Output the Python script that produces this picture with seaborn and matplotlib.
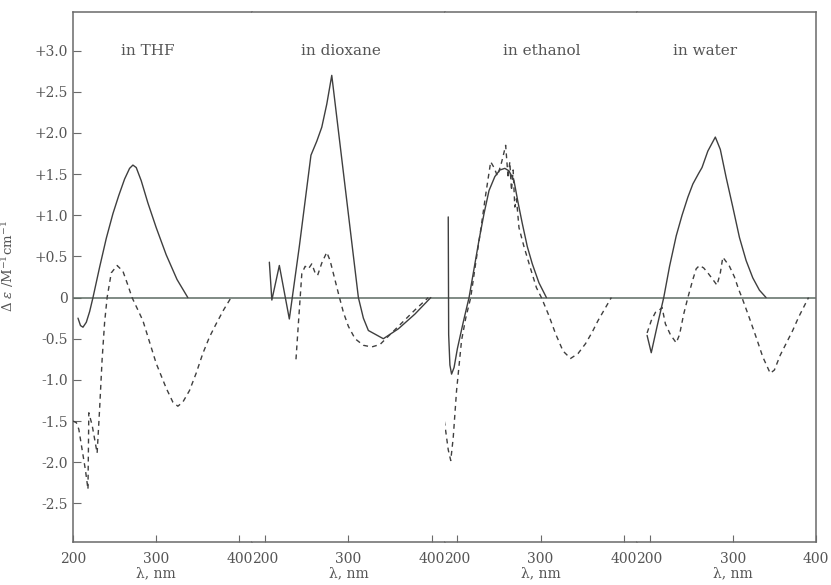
import matplotlib
matplotlib.use("Agg")
import matplotlib.pyplot as plt
import seaborn as sns
import pandas as pd

# ---------------- data ----------------
panels = ["in THF", "in dioxane", "in ethanol", "in water"]

thf_solid_x = [206, 209, 212, 216, 220, 224, 232, 240, 248, 255, 262, 268, 272, 276, 282, 290, 300, 312, 325, 338]
thf_solid_y = [-0.25, -0.34, -0.36, -0.30, -0.17, 0.0, 0.37, 0.72, 1.02, 1.24, 1.44, 1.57, 1.61, 1.58, 1.42, 1.15, 0.85, 0.52, 0.22, 0.0]
thf_dash_x = [200, 204, 207, 211, 215, 218, 219, 223, 226, 229, 232, 235, 238, 241, 246, 253, 260, 266, 271,
              284, 300, 312, 320, 326, 332, 340, 348, 356, 364, 372, 381, 390]
thf_dash_y = [-1.5, -1.52, -1.6, -1.85, -2.1, -2.33, -1.4, -1.55, -1.72, -1.89, -1.35, -0.75, -0.3, 0.0, 0.3, 0.39, 0.32, 0.15, 0.0,
              -0.28, -0.8, -1.1, -1.27, -1.32, -1.27, -1.13, -0.92, -0.68, -0.48, -0.32, -0.15, 0.0]

dio_solid_x = [205, 208, 217, 229, 241, 255, 262, 268, 274, 280, 312, 318, 324, 333, 342, 360, 380, 399]
dio_solid_y = [0.43, -0.03, 0.39, -0.26, 0.62, 1.73, 1.90, 2.07, 2.35, 2.70, 0.0, -0.25, -0.40, -0.45, -0.5, -0.38, -0.2, 0.0]
dio_dash_x = [237, 240, 244, 248, 252, 256, 260, 263, 268, 274, 278, 283, 288, 294, 300, 308, 318, 328, 338, 350, 365, 380, 396]
dio_dash_y = [-0.75, -0.3, 0.29, 0.38, 0.35, 0.41, 0.30, 0.27, 0.42, 0.55, 0.45, 0.25, 0.05, -0.18, -0.35, -0.5, -0.58, -0.6, -0.57, -0.45, -0.3, -0.15, 0.0]

eth_solid_x = [189, 189.5, 191, 193, 196, 200, 207, 214, 220, 226, 232, 238, 245, 251, 257, 262, 268, 273, 278, 284, 290, 298, 307]
eth_solid_y = [0.98, -0.45, -0.82, -0.93, -0.85, -0.62, -0.3, 0.0, 0.35, 0.70, 1.02, 1.30, 1.47, 1.55, 1.57, 1.54, 1.42, 1.15, 0.90, 0.62, 0.41, 0.18, 0.0]
eth_dash_x = [181, 185, 189, 192, 195, 199, 205, 210, 216, 222, 228, 234, 240, 244, 248, 252, 255, 258, 261, 263, 265, 267, 269, 271, 274,
              280, 288, 295, 301, 310, 318, 327, 336, 345, 354, 362, 369, 377, 385]
eth_dash_y = [-1.28, -1.55, -1.85, -1.98, -1.7, -1.13, -0.52, -0.25, 0.0, 0.42, 0.82, 1.25, 1.65, 1.58, 1.48, 1.6, 1.72, 1.85, 1.45, 1.65, 1.3, 1.55, 1.1, 1.2, 0.85,
              0.62, 0.35, 0.12, 0.0, -0.22, -0.44, -0.65, -0.74, -0.68, -0.56, -0.42, -0.28, -0.14, 0.0]

wat_solid_x = [197, 202, 209, 217, 224, 232, 239, 246, 252, 259, 263, 270, 279, 285, 292, 300, 308, 316, 324, 332, 340]
wat_solid_y = [-0.46, -0.67, -0.35, 0.0, 0.38, 0.75, 1.0, 1.22, 1.38, 1.51, 1.58, 1.78, 1.95, 1.80, 1.46, 1.10, 0.73, 0.45, 0.24, 0.09, 0.0]
wat_dash_x = [197, 202, 207, 211, 215, 219, 225, 232, 236, 241, 246, 252, 256, 260, 265, 270, 276, 281, 285, 288, 291, 296, 302, 307,
              311, 320, 328, 336, 345, 350, 357, 364, 372, 379, 386, 391]
wat_dash_y = [-0.43, -0.28, -0.18, -0.16, -0.12, -0.32, -0.45, -0.55, -0.45, -0.2, 0.0, 0.22, 0.35, 0.39, 0.36, 0.3, 0.22, 0.15, 0.3, 0.49, 0.45, 0.38, 0.25, 0.1,
              0.0, -0.25, -0.48, -0.72, -0.92, -0.88, -0.7, -0.56, -0.4, -0.24, -0.1, 0.0]

x_ticks = [200, 300, 400]
x_tick_labels = ["200", "300", "400"]
y_ticks = [3.0, 2.5, 2.0, 1.5, 1.0, 0.5, 0.0, -0.5, -1.0, -1.5, -2.0, -2.5]
y_tick_labels = ["+3.0", "+2.5", "+2.0", "+1.5", "+1.0", "+0.5", "0", "-0.5", "-1.0", "-1.5", "-2.0", "-2.5"]
title_x = [290, 291, 301, 267]

series = [
    (thf_solid_x, thf_solid_y, thf_dash_x, thf_dash_y),
    (dio_solid_x, dio_solid_y, dio_dash_x, dio_dash_y),
    (eth_solid_x, eth_solid_y, eth_dash_x, eth_dash_y),
    (wat_solid_x, wat_solid_y, wat_dash_x, wat_dash_y),
]

# ---------------- styling ----------------
sns.set_theme(style="white")
plt.rcParams["font.family"] = ["DejaVu Serif"]
plt.rcParams["mathtext.fontset"] = "dejavuserif"

text_c = "#555555"
line_c = "#3f3f3f"
frame_c = "#6a6a6a"
zero_c = "#5d6b63"

gap = 15.5
xlims = [(200, 400 + gap), (200 - gap, 400 + gap), (200 - gap, 400 + gap), (200 - gap, 400)]
widths = [hi - lo for lo, hi in xlims]

fig, axes = plt.subplots(1, 4, figsize=(8.31, 5.85), dpi=100, sharey=True,
                         gridspec_kw={"width_ratios": widths, "wspace": 0})
fig.subplots_adjust(left=73 / 831, right=816 / 831, top=1 - 12 / 585, bottom=1 - 542 / 585)
fig.patch.set_facecolor("white")

for i, ax in enumerate(axes):
    sx, sy, dx, dy = series[i]
    ax.axhline(0, color=zero_c, lw=1.1, zorder=1)
    sns.lineplot(x=sx, y=sy, sort=False, estimator=None, ax=ax, color=line_c, lw=1.0, zorder=3)
    sns.lineplot(x=dx, y=dy, sort=False, estimator=None, ax=ax, color=line_c, lw=1.0, zorder=3)
    ax.lines[-1].set_dashes((3.5, 3))
    ax.set_xlim(*xlims[i])
    ax.set_ylim(-2.97, 3.47)
    ax.set_xticks(x_ticks)
    ax.set_xticklabels(x_tick_labels, color=text_c, fontsize=10)
    ax.tick_params(axis="x", direction="in", length=5, width=0.8, color=frame_c, pad=7, bottom=True)
    ax.tick_params(axis="y", direction="in", length=6, width=0.8, color=frame_c, left=(i == 0))
    for side, sp in ax.spines.items():
        sp.set_color(frame_c)
        sp.set_linewidth(1.1)
    if i > 0:
        ax.spines["left"].set_visible(False)
    if i < 3:
        ax.spines["right"].set_visible(False)
    ax.set_xlabel("λ, nm", color=text_c, fontsize=10)
    ax.xaxis.set_label_coords(300, -0.045, transform=ax.get_xaxis_transform())
    ax.text(title_x[i], 3.0, panels[i], ha="center", va="center", color=text_c, fontsize=11)
    ax.set_ylabel("")

ax0 = axes[0]
ax0.set_yticks(y_ticks)
ax0.set_yticklabels(y_tick_labels, color=text_c, fontsize=10)
ax0.set_ylabel(r"$\Delta\ \varepsilon\ /\mathrm{M^{-1}cm^{-1}}$", color=text_c, fontsize=9.5)
ax0.yaxis.set_label_coords(16 / 831, 1 - 266 / 585, transform=fig.transFigure)

fig.savefig("out.png", dpi=100, facecolor="white")
